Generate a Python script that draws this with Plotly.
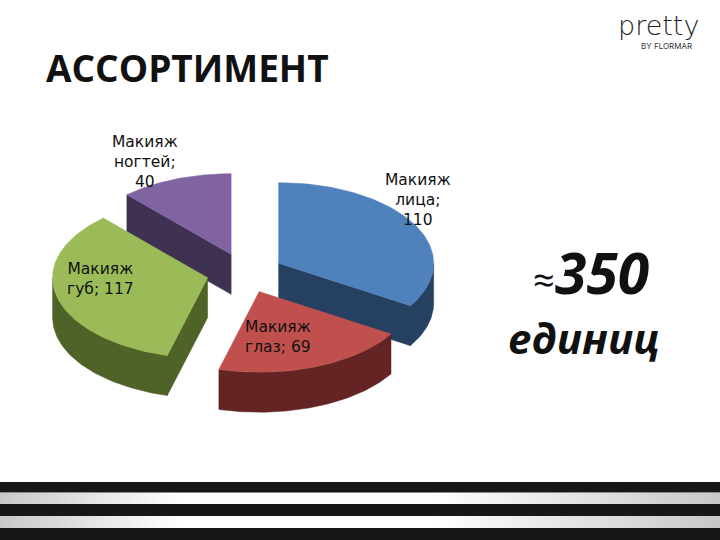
import numpy as np
import plotly.graph_objects as go

categories = ["Макияж лица", "Макияж глаз", "Макияж губ", "Макияж ногтей"]
values = [110, 69, 117, 40]
top_colors = ["#4f81bd", "#c0504d", "#9bbb59", "#8064a2"]
side_colors = ["#254061", "#632423", "#4f6228", "#3f3151"]
label_lines = [
    "Макияж<br>лица;<br>110",
    "Макияж<br>глаз; 69",
    "Макияж<br>губ; 117",
    "Макияж<br>ногтей;<br>40",
]
label_pos = [(418, 200), (278, 337), (100, 279), (145, 162)]

CX, CY, RX, RY, DEPTH, PULL = 245, 273, 155, 80.6, 40, 38.5
WARP_A, WARP_B = np.radians(3.5), np.radians(1.0)  # the near side of the tilted pie reads slightly wider

fig = go.Figure()


def warp(a):
    return a + WARP_A * np.sin(a / 2) + WARP_B * np.sin(a)


def pt(cx, cy, a):
    return cx + RX * np.sin(a), cy - RY * np.cos(a)


total = sum(values)
edges = warp(np.cumsum([0] + values) / total * 2 * np.pi)
draw_order = [3, 0, 2, 1]
for i in draw_order:
    a0, a1 = edges[i], edges[i + 1]
    mid = (a0 + a1) / 2
    cx = CX + PULL * np.sin(mid)
    cy = CY - PULL * (RY / RX) * np.cos(mid)
    arc = np.linspace(a0, a1, 90)
    ax, ay = pt(cx, cy, arc)
    vis = np.cos(arc) <= 0
    sx, sy = [], []
    if vis.any():
        wx, wy = ax[vis], ay[vis]
        sx += list(wx) + list(wx[::-1]) + [wx[0], None]
        sy += list(wy) + list(wy[::-1] + DEPTH) + [wy[0], None]
    if np.cos(a0) < 0 and np.sin(a0) < 0.2 or (np.sin(a0) < 0 and np.cos(a0) > 0):
        sx += [cx, ax[0], ax[0], cx, cx, None]
        sy += [cy, ay[0], ay[0] + DEPTH, cy + DEPTH, cy, None]
    if np.sin(a1) > 0 and np.cos(a1) < 0:
        sx += [cx, ax[-1], ax[-1], cx, cx, None]
        sy += [cy, ay[-1], ay[-1] + DEPTH, cy + DEPTH, cy, None]
    if sx:
        fig.add_trace(go.Scatter(x=sx, y=sy, mode="lines", fill="toself",
                                 fillcolor=side_colors[i],
                                 line=dict(color=side_colors[i], width=0.5),
                                 hoverinfo="skip", showlegend=False))
    fig.add_trace(go.Scatter(x=[cx] + list(ax) + [cx], y=[cy] + list(ay) + [cy],
                             mode="lines", fill="toself", fillcolor=top_colors[i],
                             line=dict(color=top_colors[i], width=0.5),
                             name=categories[i], showlegend=False))

bands_dark = [(482, 492.5), (504, 516), (528, 540)]
bands_light = [(493, 504), (516, 528)]
for y0, y1 in bands_dark:
    fig.add_shape(type="rect", x0=0, x1=720, y0=y0, y1=y1, fillcolor="#171717", line_width=0)
for y0, y1 in bands_light:
    fig.add_trace(go.Scatter(x=[0, 720, 720, 0, 0], y=[y0, y0, y1, y1, y0], mode="lines",
                             line=dict(width=0), fill="toself", hoverinfo="skip", showlegend=False,
                             fillgradient=dict(type="horizontal",
                                               colorscale=[[0, "#c8c8c8"], [0.25, "#ffffff"],
                                                           [0.6, "#ffffff"], [1, "#c8c8c8"]])))

for text, (x, y) in zip(label_lines, label_pos):
    fig.add_annotation(x=x, y=y, text=text, showarrow=False, align="center",
                       font=dict(family="DejaVu Sans", size=15.5, color="#111111"))

fig.add_annotation(x=44, y=67, text="<b>АССОРТИМЕНТ</b>", showarrow=False, xanchor="left",
                   font=dict(family="Open Sans", size=37, color="#111111"))
fig.add_annotation(x=544, y=279, text="≈", showarrow=False,
                   font=dict(family="Open Sans", size=38, color="#111111"))
fig.add_annotation(x=602, y=272, text="<b><i>350</i></b>", showarrow=False,
                   font=dict(family="Open Sans", size=57, color="#111111"))
fig.add_annotation(x=583, y=337, text="<b><i>единиц</i></b>", showarrow=False,
                   font=dict(family="Open Sans", size=42, color="#111111"))
fig.add_annotation(x=658, y=25, text="pretty", showarrow=False,
                   font=dict(family="DejaVu Sans", size=27, color="#222222", weight=200))
fig.add_annotation(x=666, y=46, text="BY FLORMAR", showarrow=False,
                   font=dict(family="Inter", size=8, color="#333333"))

fig.update_layout(width=720, height=540, margin=dict(l=0, r=0, t=0, b=0),
                  paper_bgcolor="white", plot_bgcolor="white", autosize=False,
                  xaxis=dict(range=[0, 720], visible=False, fixedrange=True),
                  yaxis=dict(range=[540, 0], visible=False, fixedrange=True))
fig.write_html("out.html", config={"displayModeBar": False},
               post_script="document.body.style.margin='0';document.documentElement.style.overflow='hidden';")
